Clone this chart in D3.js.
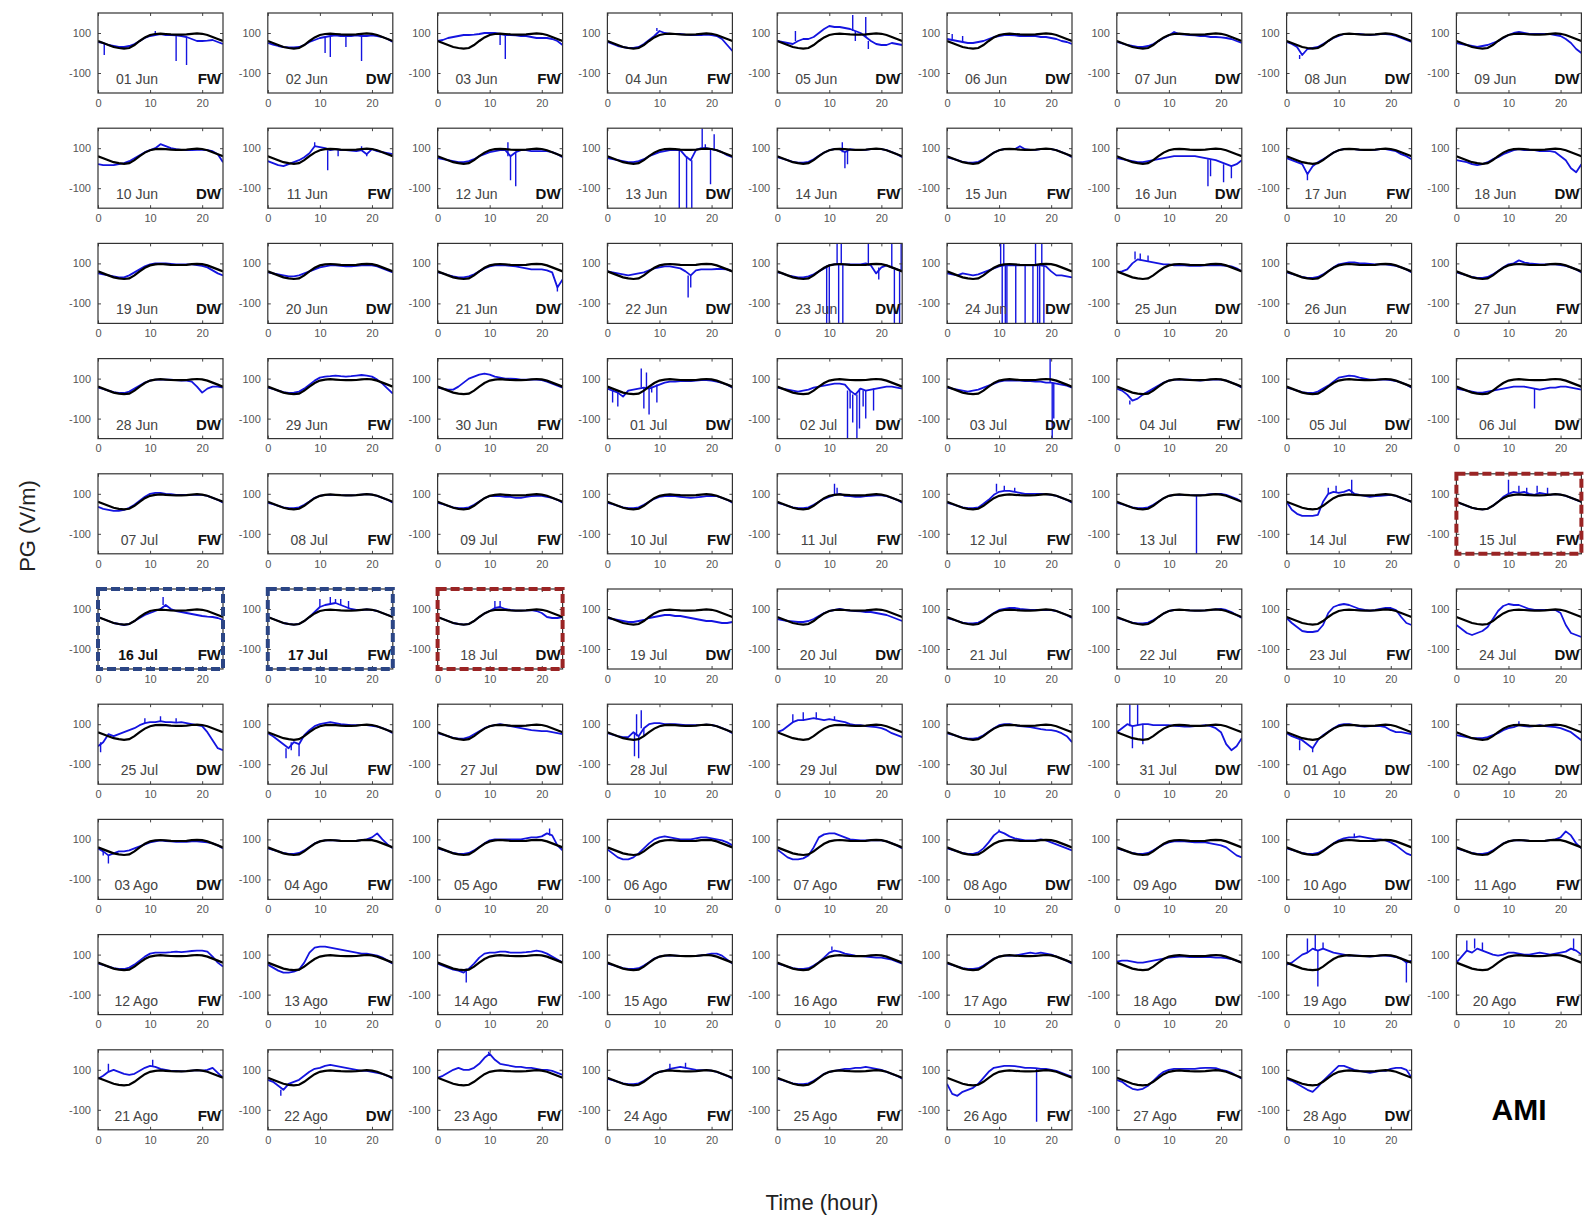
<!DOCTYPE html>
<html>
<head>
<meta charset="utf-8">
<script src="https://cdn.jsdelivr.net/npm/d3@7"></script>
<style>
  body { margin: 0; background: #fff; }
  text { font-family: "Liberation Sans", Arial, sans-serif; }
</style>
</head>
<body>
<script>
// day labels, weather class and hourly PG (V/m)
var days = ["01 Jun","02 Jun","03 Jun","04 Jun","05 Jun","06 Jun","07 Jun","08 Jun","09 Jun",
  "10 Jun","11 Jun","12 Jun","13 Jun","14 Jun","15 Jun","16 Jun","17 Jun","18 Jun",
  "19 Jun","20 Jun","21 Jun","22 Jun","23 Jun","24 Jun","25 Jun","26 Jun","27 Jun",
  "28 Jun","29 Jun","30 Jun","01 Jul","02 Jul","03 Jul","04 Jul","05 Jul","06 Jul",
  "07 Jul","08 Jul","09 Jul","10 Jul","11 Jul","12 Jul","13 Jul","14 Jul","15 Jul",
  "16 Jul","17 Jul","18 Jul","19 Jul","20 Jul","21 Jul","22 Jul","23 Jul","24 Jul",
  "25 Jul","26 Jul","27 Jul","28 Jul","29 Jul","30 Jul","31 Jul","01 Ago","02 Ago",
  "03 Ago","04 Ago","05 Ago","06 Ago","07 Ago","08 Ago","09 Ago","10 Ago","11 Ago",
  "12 Ago","13 Ago","14 Ago","15 Ago","16 Ago","17 Ago","18 Ago","19 Ago","20 Ago",
  "21 Ago","22 Ago","23 Ago","24 Ago","25 Ago","26 Ago","27 Ago","28 Ago"];

var kind = ["FW","DW","FW","FW","DW","DW","DW","DW","DW",
  "DW","FW","DW","DW","FW","FW","DW","FW","DW",
  "DW","DW","DW","DW","DW","DW","DW","FW","FW",
  "DW","FW","FW","DW","DW","DW","FW","DW","DW",
  "FW","FW","FW","FW","FW","FW","FW","FW","FW",
  "FW","FW","DW","DW","DW","FW","FW","FW","DW",
  "DW","FW","DW","FW","DW","FW","DW","DW","DW",
  "DW","FW","FW","FW","FW","DW","DW","DW","FW",
  "FW","FW","FW","FW","FW","FW","DW","DW","FW",
  "FW","DW","FW","FW","FW","FW","FW","DW"];

var hours = d3.range(25);

// reference curve (black)
var ref = [60,50,40,30,25,22,25,40,60,78,90,95,97,95,93,92,92,93,96,98,96,90,80,70,60];

// measured curve (blue), one value per hour 0..24
var pg = [
  [55,50,40,35,30,30,35,45,60,75,85,90,95,90,90,88,85,80,70,60,60,62,65,55,45],
  [50,42,35,30,28,28,30,40,55,65,75,80,85,88,85,85,85,88,85,85,88,85,80,70,55],
  [60,65,75,80,85,90,90,92,95,100,100,100,95,90,90,88,85,85,80,75,75,75,70,60,40],
  [55,45,35,30,25,25,30,45,65,85,110,100,95,95,95,92,90,90,90,92,90,85,70,40,10],
  [60,55,50,45,60,70,70,80,100,120,135,130,130,125,120,110,100,80,60,45,40,40,50,45,40],
  [70,65,60,55,50,50,55,60,70,80,85,90,90,88,85,85,85,85,80,80,75,70,60,55,45],
  [55,48,40,35,30,30,35,45,60,75,88,105,95,92,90,88,85,85,80,80,78,75,70,60,50],
  [55,45,30,-10,20,25,30,45,60,75,85,95,95,95,95,92,90,92,95,95,92,85,75,65,55],
  [50,45,40,35,30,35,40,50,60,75,90,100,105,100,95,95,95,95,95,90,85,70,50,20,0],
  [20,15,15,15,20,25,35,50,65,80,90,100,120,110,100,95,92,90,90,92,92,90,85,70,30],
  [35,25,15,10,20,30,40,55,75,110,105,100,90,95,90,90,88,85,90,70,95,85,80,75,70],
  [50,45,40,35,30,30,35,45,60,70,80,85,90,90,60,80,90,90,85,85,85,85,80,70,55],
  [50,45,40,35,30,30,35,45,60,70,80,85,90,90,90,60,40,90,100,100,95,90,80,65,55],
  [55,48,40,32,28,28,32,45,62,78,90,95,95,80,95,92,90,92,95,95,95,90,80,70,55],
  [55,48,40,32,28,28,32,45,60,78,90,95,95,95,110,95,92,92,95,95,95,90,80,70,55],
  [50,45,40,35,30,30,35,40,45,50,55,60,60,60,60,60,55,50,45,40,30,20,10,20,40],
  [50,40,30,20,-30,10,30,45,60,78,90,95,95,95,92,90,90,92,95,95,90,85,70,60,45],
  [40,35,30,20,15,20,30,45,55,70,80,90,95,90,90,90,85,85,85,80,60,40,0,-20,20],
  [50,45,40,35,30,30,40,55,70,85,95,100,100,100,98,95,95,95,95,92,88,80,65,50,40],
  [55,50,45,40,35,35,40,50,60,70,80,85,90,90,88,85,85,88,90,92,90,85,75,65,55],
  [55,50,42,35,30,30,35,45,60,75,85,90,92,90,88,85,80,75,70,70,70,65,55,-20,20],
  [60,55,50,45,40,45,50,55,65,75,80,85,85,80,75,60,40,65,70,70,70,72,72,70,60],
  [55,50,40,35,30,30,35,45,60,75,90,95,95,95,95,95,95,100,90,50,80,90,80,70,60],
  [50,45,40,50,45,40,45,55,65,75,85,90,90,90,90,90,90,90,90,85,60,40,40,35,30],
  [55,60,70,100,120,115,110,105,100,95,95,90,90,90,88,88,88,90,90,90,90,88,85,75,60],
  [55,48,40,32,28,28,32,45,62,80,95,100,105,105,100,100,98,95,95,95,92,88,80,70,55],
  [55,48,40,32,28,28,32,45,62,80,95,100,115,105,100,98,95,95,95,95,92,88,80,70,55],
  [55,48,40,32,28,28,35,50,65,80,90,95,95,95,95,92,90,90,85,60,30,50,60,60,55],
  [55,48,40,32,28,30,35,50,70,90,105,110,112,115,112,110,112,115,118,115,110,95,75,50,25],
  [55,50,45,45,60,80,100,110,120,125,120,110,105,100,100,98,95,95,95,95,92,85,75,65,55],
  [50,40,30,10,40,45,50,55,50,60,70,80,85,85,88,88,88,90,92,92,90,85,78,70,55],
  [55,50,45,40,35,40,45,55,60,65,70,75,75,70,40,20,50,40,45,50,55,60,60,55,50],
  [55,50,45,40,35,40,45,55,65,75,85,90,90,90,90,88,88,85,85,80,80,75,70,65,55],
  [50,40,20,-10,0,20,35,50,65,80,90,95,95,95,95,92,90,92,95,95,95,90,80,70,55],
  [55,48,40,32,28,28,35,50,65,85,105,110,115,112,105,100,95,95,95,95,92,88,80,70,55],
  [50,45,40,35,30,30,35,40,45,50,55,60,60,60,55,50,45,50,55,55,60,60,55,50,45],
  [35,25,20,15,15,20,30,45,65,85,100,105,105,100,98,95,95,95,95,95,95,90,80,70,55],
  [55,48,40,32,28,28,32,45,62,80,90,95,95,95,93,92,92,93,96,98,96,90,80,70,55],
  [55,48,40,32,28,28,32,45,62,78,88,90,88,85,85,80,80,85,88,90,90,85,80,70,55],
  [55,48,40,32,28,28,32,45,60,75,85,88,90,88,85,82,80,82,85,88,90,88,80,70,55],
  [55,48,40,32,28,28,32,45,60,75,85,95,100,90,88,85,85,88,90,92,92,88,80,70,55],
  [55,48,40,32,28,28,32,50,70,95,110,115,115,110,105,100,100,100,100,98,95,90,80,70,55],
  [55,48,40,32,28,28,32,45,62,78,90,95,95,95,93,92,92,95,98,100,100,95,85,75,60],
  [60,20,0,-10,-10,-10,-5,60,100,110,105,110,120,100,95,90,85,88,90,92,95,90,80,70,60],
  [60,50,40,30,25,22,25,40,60,85,100,110,105,110,100,95,105,100,95,98,96,90,80,70,60],
  [60,50,40,30,25,20,25,40,55,70,80,90,100,120,100,90,85,80,75,70,65,62,60,55,45],
  [60,50,40,30,25,22,25,40,60,85,110,120,125,130,120,110,100,95,95,98,96,90,80,70,60],
  [60,50,40,30,25,22,25,40,60,78,90,105,110,100,95,92,92,93,95,90,80,60,55,55,60],
  [55,50,45,40,35,35,40,45,55,60,65,70,70,65,65,60,55,50,45,40,40,35,30,30,35],
  [50,45,40,38,35,35,40,50,65,80,90,95,100,95,92,90,88,85,85,80,75,70,60,50,40],
  [55,48,40,32,28,28,32,45,62,80,95,100,105,105,100,98,95,95,95,95,95,90,80,70,55],
  [55,48,40,32,28,28,32,45,60,78,90,95,95,95,93,92,92,93,96,98,100,95,85,70,55],
  [55,30,10,-10,-15,-15,-10,20,80,110,120,125,120,110,100,95,92,95,100,105,105,95,60,30,20],
  [20,0,-20,-30,-20,-10,10,50,90,115,125,120,120,110,100,95,95,95,95,95,80,20,-20,-30,-40],
  [-10,10,50,40,50,60,70,80,95,105,110,110,115,110,110,108,110,105,100,95,90,60,20,-20,-30],
  [55,40,20,0,-20,10,0,45,70,90,100,105,110,105,100,98,95,95,95,95,92,88,80,70,55],
  [55,48,40,32,28,28,35,50,65,80,90,95,100,95,90,85,80,75,70,68,65,65,60,55,50],
  [55,48,40,35,35,60,40,80,100,105,105,100,100,100,98,95,95,95,95,98,96,90,80,70,55],
  [60,70,90,110,120,120,125,130,125,120,125,120,115,110,100,95,95,90,88,85,80,70,55,45,35],
  [55,48,40,32,28,28,32,45,62,80,95,100,100,95,90,88,85,80,75,72,70,65,55,40,10],
  [60,80,100,90,95,100,100,95,95,95,95,92,90,88,88,90,92,95,90,80,60,0,-30,-10,30],
  [55,40,30,20,0,-20,20,45,62,80,95,100,100,95,90,88,90,92,90,85,70,60,60,55,50],
  [45,40,35,30,30,30,35,45,55,70,80,85,95,90,88,90,95,90,88,85,80,70,60,40,20],
  [55,40,20,30,40,40,45,55,65,75,85,90,95,92,90,88,88,88,90,90,88,85,80,70,55],
  [55,48,40,32,28,28,32,45,62,80,90,95,95,95,93,92,92,93,96,100,110,130,100,75,55],
  [55,48,40,32,28,28,32,45,62,80,95,100,100,100,100,100,100,105,110,110,115,130,120,70,45],
  [50,30,10,0,0,10,30,55,80,100,110,115,110,105,100,100,100,105,110,110,105,100,95,85,70],
  [50,30,10,0,0,5,20,60,110,125,130,130,120,110,100,98,95,95,95,95,95,90,80,70,55],
  [55,48,40,32,28,28,35,55,85,120,140,130,115,105,100,95,95,95,100,95,85,75,65,55,45],
  [55,48,40,32,28,28,32,45,60,75,85,90,90,90,88,85,85,85,80,75,70,60,40,20,10],
  [55,48,40,32,28,28,32,45,62,80,95,105,110,110,115,110,105,100,100,95,85,70,50,30,20],
  [55,48,40,32,28,28,32,45,62,80,90,95,95,95,93,92,92,93,96,100,110,140,120,80,55],
  [55,48,40,32,28,28,35,50,70,90,105,110,110,110,112,115,112,115,118,120,120,115,90,60,40],
  [50,35,20,10,10,15,25,60,110,135,140,140,135,130,125,120,115,110,105,105,100,95,85,70,55],
  [55,45,35,25,20,10,30,55,85,105,110,110,115,115,110,110,110,112,115,120,115,105,90,75,60],
  [55,48,40,32,28,28,32,45,62,80,90,95,95,95,93,92,92,93,96,100,105,105,95,75,55],
  [55,48,40,32,28,28,32,45,62,85,110,120,115,105,100,95,92,90,88,85,85,80,75,65,55],
  [55,48,40,32,28,28,32,45,62,80,90,95,95,95,100,105,110,105,110,105,100,90,80,70,55],
  [65,70,70,65,60,60,65,70,75,80,85,88,90,90,88,88,88,88,88,85,85,82,78,70,60],
  [50,60,80,100,110,130,120,130,120,110,105,100,95,95,95,92,90,92,95,95,92,88,80,60,70],
  [60,90,120,110,130,120,110,100,95,100,110,110,105,100,100,105,110,105,100,105,110,115,130,120,100],
  [55,70,90,100,90,80,75,80,95,110,120,115,105,100,95,95,92,93,96,98,96,100,110,85,60],
  [50,40,20,0,30,40,50,70,90,105,110,120,125,120,115,110,105,100,95,95,90,85,80,70,55],
  [60,70,85,100,110,100,100,110,130,160,180,150,130,125,120,115,115,110,110,105,100,100,95,85,75],
  [55,48,40,32,28,28,32,45,62,80,90,95,105,110,115,110,105,100,98,98,96,90,80,70,55],
  [55,48,40,32,28,28,32,45,62,80,90,95,100,105,105,110,110,115,110,105,100,90,80,70,55],
  [30,-20,-30,-10,0,10,30,60,90,110,115,120,120,118,115,110,110,108,105,105,100,95,85,75,65],
  [50,40,20,5,0,5,20,45,70,90,100,105,105,105,105,105,108,110,110,108,100,95,85,70,55],
  [55,45,30,15,0,-10,15,45,70,95,120,120,110,100,95,90,85,90,95,95,105,110,110,100,60]
];

// short bursts in the blue trace: [hour, value]
var spikes = {
  "01 Jun": [[1.2,-10],[11,110],[15,-40],[17,-60]],
  "02 Jun": [[11,0],[12,-20],[15,30],[18,-40]],
  "03 Jun": [[12,40],[13,-30]],
  "04 Jun": [[9.5,125]],
  "05 Jun": [[3.5,110],[14.5,190],[15,60],[17,180],[17.5,20]],
  "06 Jun": [[1,95],[3,85]],
  "08 Jun": [[2.5,-30]],
  "11 Jun": [[9,130],[11.5,-10],[13.5,60],[18,110],[19,60]],
  "12 Jun": [[13.5,130],[14,-60],[15,-90]],
  "13 Jun": [[13.8,-200],[15.2,-200],[16.2,-200],[18.2,200],[18.8,120],[19.8,-80],[20.5,170]],
  "14 Jun": [[12.5,130],[13,0],[13.5,20]],
  "16 Jun": [[17.5,-90],[18,-40],[20.5,-70],[22,-50]],
  "17 Jun": [[4,-60]],
  "21 Jun": [[23,-40]],
  "22 Jun": [[15.5,-70],[16,-20]],
  "23 Jun": [[9.5,-200],[10,-200],[11.5,200],[11.8,-200],[12.3,200],[12.6,-200],[17.5,200],[19.5,20],[22,200],[22.5,-200],[23.5,-200],[23.8,200]],
  "24 Jun": [[10.3,200],[10.6,-200],[10.9,200],[11.2,-200],[11.5,-200],[13.2,-200],[15,-200],[16.5,-200],[17,200],[17.4,-200],[17.8,-200],[18.2,200],[18.6,-200]],
  "25 Jun": [[3.5,160],[4.5,150],[6,140]],
  "01 Jul": [[1,-20],[2,-40],[6.5,150],[7,-50],[7.5,130],[8,-80],[8.5,30],[9.5,-20]],
  "02 Jul": [[13.5,-200],[14,-50],[14.5,-120],[15.3,-200],[15.8,-150],[16.5,-40],[17,-100],[18.5,-60]],
  "03 Jul": [[19.8,200],[20.2,-200],[20.5,-100]],
  "04 Jul": [[2.5,-30]],
  "06 Jul": [[15,-50]],
  "11 Jul": [[11,150],[11.5,130]],
  "12 Jul": [[9.5,150],[11,140],[13,130]],
  "13 Jul": [[15.3,-200]],
  "14 Jul": [[8,130],[9.5,140],[12.5,170]],
  "15 Jul": [[10,170],[12,140],[13.5,130],[15.5,140],[17.5,130]],
  "16 Jul": [[12.5,160]],
  "17 Jul": [[10,150],[12,160],[13,150],[14,150],[15.5,140]],
  "18 Jul": [[11,140],[12,140]],
  "25 Jul": [[0.5,-40],[9,130],[12,140],[15,130]],
  "26 Jul": [[3.5,-70],[4.5,-30],[6,-60]],
  "28 Jul": [[5.2,-60],[5.6,150],[6,-70],[6.5,170],[7,40]],
  "29 Jul": [[3,150],[5,160],[7.5,160],[11,140]],
  "31 Jul": [[2.5,200],[3,-20],[4,200],[5,0]],
  "01 Ago": [[2.5,-30],[5,-40]],
  "02 Ago": [[12,115]],
  "03 Ago": [[1,20],[2,-20]],
  "05 Ago": [[21.5,155]],
  "08 Ago": [[10,150]],
  "10 Ago": [[13,130]],
  "14 Ago": [[5.5,-40]],
  "16 Ago": [[10.5,140]],
  "19 Ago": [[4,180],[5.5,200],[6,-60],[7,160],[23,-40]],
  "20 Ago": [[2,170],[3.5,180],[5,160],[22.5,180]],
  "21 Ago": [[2,130],[10.5,150]],
  "22 Ago": [[2.5,-30]],
  "23 Ago": [[9.8,190]],
  "24 Ago": [[12,130],[15,135]],
  "26 Ago": [[17.2,-160]]
};

// dashed frames around selected days
var boxed = {"15 Jul": "#9a2424", "16 Jul": "#2b4585", "17 Jul": "#2b4585", "18 Jul": "#9a2424"};
var boldDate = ["16 Jul", "17 Jul"];

var W = 1585, H = 1218;
var pw = 125, ph = 80;
var colX = 98, colStep = 169.8, rowY = 13, rowStep = 115.2;

var svg = d3.select("body").append("svg")
    .attr("width", W)
    .attr("height", H);

svg.append("rect").attr("width", W).attr("height", H).attr("fill", "#fff");

var x = d3.scaleLinear().domain([0, 24]).range([0, pw]);
var y = d3.scaleLinear().domain([-200, 200]).range([ph, 0]);

var line = d3.line()
    .x(function(d, i) { return x(hours[i]); })
    .y(function(d) { return y(d); });

var seg = d3.line()
    .x(function(d) { return x(d[0]); })
    .y(function(d) { return y(d[1]); });

var plain = function(d) { return String(d); };  // hyphen minus like the original

svg.append("defs").append("clipPath").attr("id", "clip")
  .append("rect").attr("width", pw).attr("height", ph);

days.forEach(function(day, i) {
  var c = i % 9, r = Math.floor(i / 9);
  var g = svg.append("g")
      .attr("transform", "translate(" + (colX + c * colStep) + "," + (rowY + r * rowStep) + ")");

  var plot = g.append("g").attr("clip-path", "url(#clip)");

  plot.append("path")
      .datum(pg[i])
      .attr("fill", "none")
      .attr("stroke", "#1414e0")
      .attr("stroke-width", 1.8)
      .attr("stroke-linejoin", "round")
      .attr("d", line);

  (spikes[day] || []).forEach(function(s) {
    var base = pg[i][Math.round(s[0])];
    plot.append("path")
        .attr("fill", "none")
        .attr("stroke", "#1414e0")
        .attr("stroke-width", 1.4)
        .attr("d", seg([[s[0], base], s]));
  });

  plot.append("path")
      .datum(ref)
      .attr("fill", "none")
      .attr("stroke", "#000")
      .attr("stroke-width", 2.2)
      .attr("d", line);

  // axes, matlab style ticks pointing inwards
  var xb = g.append("g").attr("transform", "translate(0," + ph + ")")
      .call(d3.axisBottom(x).tickValues([0, 10, 20]).tickSize(-3).tickPadding(6).tickFormat(plain));
  var xt = g.append("g")
      .call(d3.axisTop(x).tickValues([0, 10, 20]).tickSize(-3).tickFormat(""));
  var yl = g.append("g")
      .call(d3.axisLeft(y).tickValues([-100, 100]).tickSize(-3).tickPadding(7).tickFormat(plain));
  var yr = g.append("g").attr("transform", "translate(" + pw + ",0)")
      .call(d3.axisRight(y).tickValues([-100, 100]).tickSize(-3).tickFormat(""));
  [xb, xt, yl, yr].forEach(function(a) {
    a.select(".domain").remove();
    a.selectAll("line").attr("stroke", "#444");
    a.selectAll("text").attr("fill", "#555").style("font-size", "11px")
        .style("font-family", "'Liberation Sans', Arial, sans-serif");
  });

  g.append("rect")
      .attr("width", pw).attr("height", ph)
      .attr("fill", "none")
      .attr("stroke", "#333")
      .attr("stroke-width", 1.2);

  g.append("text")
      .attr("x", 60).attr("y", ph - 9)
      .attr("text-anchor", "end")
      .attr("fill", boldDate.indexOf(day) >= 0 ? "#111" : "#444")
      .attr("font-weight", boldDate.indexOf(day) >= 0 ? "bold" : "normal")
      .style("font-size", "14px")
      .text(day);

  g.append("text")
      .attr("x", pw - 2).attr("y", ph - 9)
      .attr("text-anchor", "end")
      .attr("font-weight", "bold")
      .attr("fill", "#111")
      .style("font-size", "15px")
      .text(kind[i]);

  if (boxed[day]) {
    g.append("rect")
        .attr("width", pw).attr("height", ph)
        .attr("fill", "none")
        .attr("stroke", boxed[day])
        .attr("stroke-width", 4)
        .attr("stroke-dasharray", "9,4");
  }
});

svg.append("text")
    .attr("transform", "translate(35,526) rotate(-90)")
    .attr("text-anchor", "middle")
    .attr("fill", "#222")
    .style("font-size", "22px")
    .text("PG (V/m)");

svg.append("text")
    .attr("x", 822).attr("y", 1210)
    .attr("text-anchor", "middle")
    .attr("fill", "#222")
    .style("font-size", "22px")
    .text("Time (hour)");

svg.append("text")
    .attr("x", 1519).attr("y", 1120)
    .attr("text-anchor", "middle")
    .attr("font-weight", "bold")
    .attr("fill", "#000")
    .style("font-size", "30px")
    .text("AMI");
</script>
</body>
</html>
